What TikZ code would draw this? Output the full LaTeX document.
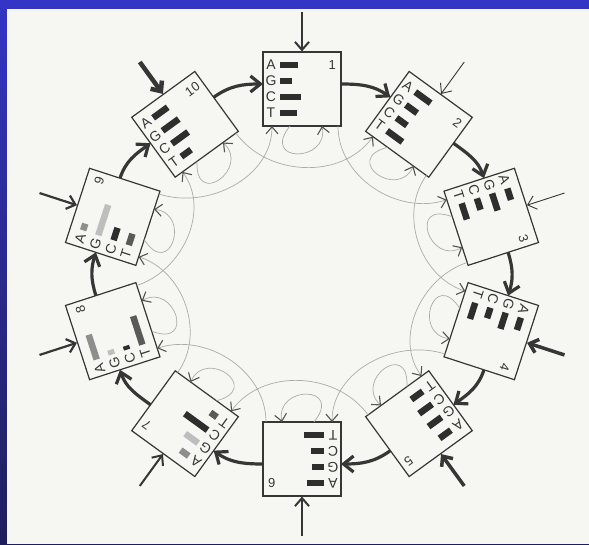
\documentclass[tikz,border=0pt]{standalone}
\usepackage{fontspec}
\setmainfont{Liberation Sans}
\usetikzlibrary{arrows.meta,calc}
\definecolor{ink}{HTML}{363636}
\definecolor{paper}{HTML}{F6F6F2}
\definecolor{linkc}{HTML}{ABABAB}
\definecolor{barD}{HTML}{2E2E2E}
\definecolor{barM}{HTML}{5A5A5A}
\definecolor{barG}{HTML}{8E8E8E}
\definecolor{barL}{HTML}{BEBEBE}
\definecolor{frameT}{HTML}{3434C6}
\definecolor{frameB}{HTML}{1E1E5C}
\tikzset{
  cell/.style={draw=ink,line width=1.2pt,fill=paper,minimum width=78pt,minimum height=74pt,inner sep=0pt},
  glyph/.style={font=\fontsize{14}{14}\selectfont,text=ink,inner sep=0pt},
  num/.style={font=\fontsize{13}{13}\selectfont,text=ink,inner sep=0pt,anchor=east},
  feed/.style={-{Straight Barb[length=8pt,width=14pt]},ink},
  ring/.style={-{Straight Barb[length=10pt,width=16pt]},ink,line width=3.2pt},
  link/.style={-{Straight Barb[length=7pt,width=12pt,color=ink!85,line width=1.1pt]},linkc,line width=0.7pt}
}
\begin{document}
\begin{tikzpicture}[x=1pt,y=1pt]
\useasboundingbox (-302,-270) rectangle (287,274);
\shade[top color=frameT,bottom color=frameB] (-302,-270) rectangle (287,274);
\fill[paper] (-295,-270) rectangle (287,265);
% boxes round the ring
\foreach \k/\w/\la/\ca/\lg/\cg/\lc/\cc/\lt/\ct in {
  1/2.0/18/barD/12/barD/21/barD/17/barD,
  2/0.9/19/barD/14/barD/13/barD/19/barD,
  3/0.9/12/barD/18/barD/12/barD/17/barD,
  4/3.5/13/barD/17/barD/11/barD/17/barD,
  5/3.5/14/barD/16/barD/16/barD/14/barD,
  6/2.0/17/barD/12/barD/13/barD/20/barD,
  7/2.0/10/barG/16/barL/28/barD/8/barM,
  8/2.2/26/barG/5/barL/4/barD/30/barM,
  9/2.2/7/barG/32/barL/13/barD/12/barM,
  10/4.5/18/barD/20/barD/20/barD/12/barD}{
  \pgfmathsetmacro\ang{90-36*(\k-1)}
  \pgfmathsetmacro\rot{-36*(\k-1)}
  \begin{scope}[shift={({199*cos(\ang)},{185*sin(\ang)})},rotate=\rot,transform shape]
    \node[cell] (b\k) at (0,0) {};
    \node[glyph] (b\k-A) at (-31,24) {A};
    \node[glyph] (b\k-G) at (-31,8) {G};
    \node[glyph] (b\k-C) at (-31,-8) {C};
    \node[glyph] (b\k-T) at (-31,-24) {T};
    \fill[\ca] (-22,20.75) rectangle ++(\la,6.5);
    \fill[\cg] (-22,4.75) rectangle ++(\lg,6.5);
    \fill[\cc] (-22,-11.25) rectangle ++(\lc,6.5);
    \fill[\ct] (-22,-27.25) rectangle ++(\lt,6.5);
    \node[num] (n\k) at (34,24) {\k};
    \coordinate (b\k-e) at (39,5);
    \coordinate (b\k-w) at (-39,5);
    \coordinate (b\k-si) at (-30,-37);
    \coordinate (b\k-ls) at (-12,-37);
    \coordinate (b\k-le) at (20,-37);
    \coordinate (b\k-so) at (36,-37);
    \coordinate (f\k) at (0,77);
    \draw[feed,line width=\w pt] (f\k) -- (b\k.north);
    \draw[link] (b\k-ls) .. controls (-42,-74) and (27,-74) .. (b\k-le);
  \end{scope}
}
% thick arrows from box to box
\foreach \k in {1,...,10}{
  \pgfmathtruncatemacro\n{mod(\k,10)+1}
  \pgfmathsetmacro\o{-36*(\k-1)}
  \pgfmathsetmacro\i{-36*(\n-1)+180}
  \draw[ring] (b\k-e) to[out=\o,in=\i] (b\n-w);
}
% thin arrows skipping one box
\foreach \k in {1,...,10}{
  \pgfmathtruncatemacro\m{mod(\k+1,10)+1}
  \pgfmathsetmacro\o{-36*(\k-1)-90}
  \pgfmathsetmacro\i{-36*(\m-1)-90}
  \draw[link] (b\k-so) to[out=\o,in=\i] (b\m-si);
}
\end{tikzpicture}
\end{document}
